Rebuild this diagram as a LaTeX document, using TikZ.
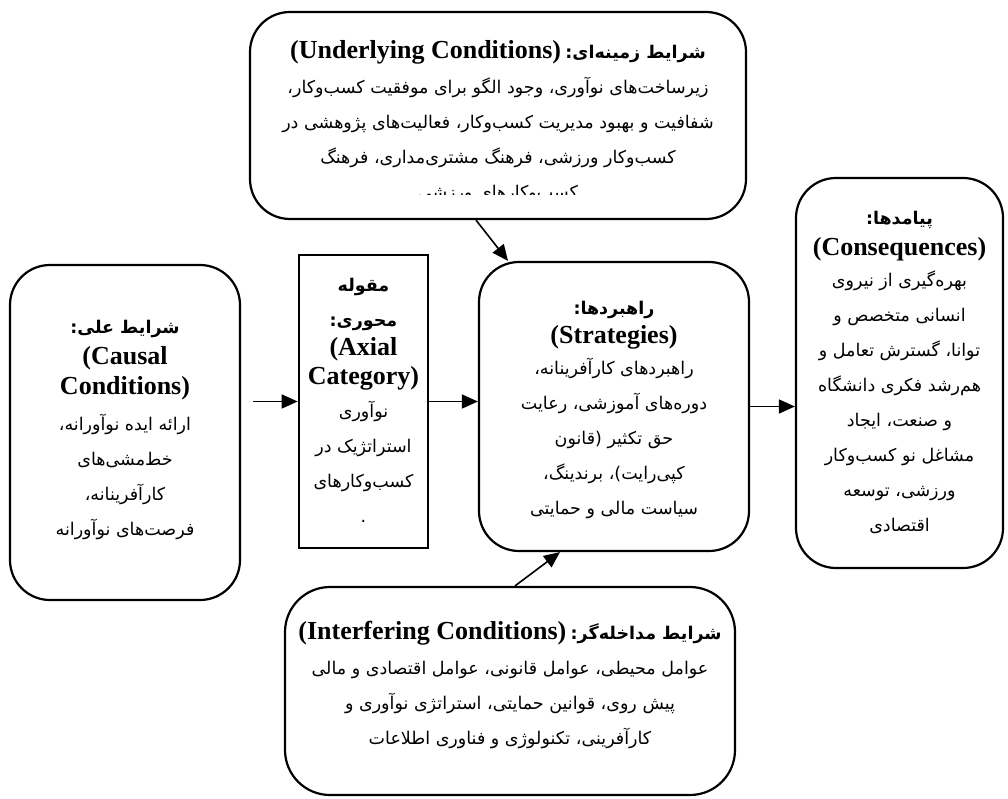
\documentclass[tikz,border=0pt]{standalone}
\usepackage{fontspec}
\setmainfont{Liberation Serif}
\newfontfamily\fa[Script=Arabic]{DejaVu Sans}
\TeXXeTstate=1
\usetikzlibrary{arrows.meta}
\newcommand{\zw}{^^^^200c}
\newcommand{\fl}[1]{{\fa\beginR #1\endR}}
\newcommand{\fh}[1]{{\fa\bfseries\beginR #1\endR}}
\newcommand{\en}[1]{{\fontsize{26}{29}\selectfont\bfseries #1}}
\begin{document}
\begin{tikzpicture}[x=1pt,y=-1pt,
  box/.style={draw, line width=2.2pt, rounded corners=40pt, inner sep=0pt},
  sqbox/.style={draw, line width=2.6pt, inner sep=0pt},
  txt/.style={align=center, font=\fontsize{17.5}{35}\selectfont, inner sep=0pt},
  arr/.style={line width=1.6pt, -{Triangle[length=16pt,width=14pt]}}]
\useasboundingbox (0,0) rectangle (1008,799);

% boxes
\node[box, minimum width=496pt, minimum height=207pt] (top) at (498,115.5) {};
\node[box, minimum width=230pt, minimum height=335pt] (causal) at (125,432.5) {};
\node[sqbox, minimum width=129pt, minimum height=293pt] (axial) at (363.5,401.5) {};
\node[box, minimum width=270pt, minimum height=289pt] (strat) at (614,406.5) {};
\node[box, minimum width=207pt, minimum height=390pt] (cons) at (899.5,373) {};
\node[box, rounded corners=45pt, minimum width=450pt, minimum height=208pt] (inter) at (510,691) {};

% texts
\begin{scope}
\clip (250,12) rectangle (746,195);
\node[txt] (topt) at (498,122) {\en{(Underlying Conditions)} \fh{شرایط زمینه\zw ای:}\\
\fl{زیرساخت\zw های نوآوری، وجود الگو برای موفقیت کسب\zw وکار،}\\
\fl{شفافیت و بهبود مدیریت کسب\zw وکار، فعالیت\zw های پژوهشی در}\\
\fl{کسب\zw وکار ورزشی، فرهنگ مشتری\zw مداری، فرهنگ}\\
\fl{کسب\zw وکارهای ورزشی}};
\end{scope}

\node[txt] (causalt) at (125,430) {\fh{شرایط علی:}\\[-4pt]
\en{(Causal}\\[-5pt]
\en{Conditions)}\\[1pt]
\fl{ارائه ایده نوآورانه،}\\
\fl{خط\zw مشی\zw های}\\
\fl{کارآفرینانه،}\\
\fl{فرصت\zw های نوآورانه}};

\node[txt] (axialt) at (363.5,400) {\fh{مقوله}\\
\fh{محوری:}\\[-6pt]
\en{(Axial}\\[-6pt]
\en{Category)}\\[-2pt]
\fl{نوآوری}\\
\fl{استراتژیک در}\\
\fl{کسب\zw وکارهای}\\
\fl{.}};

\node[txt] (stratt) at (614,410) {\fh{راهبردها:}\\[-6pt]
\en{(Strategies)}\\[-4pt]
\fl{راهبردهای کارآفرینانه،}\\
\fl{دوره\zw های آموزشی، رعایت}\\
\fl{حق تکثیر (قانون}\\
\fl{کپی\zw رایت)، برندینگ،}\\
\fl{سیاست مالی و حمایتی}};

\node[txt] (const) at (899.5,372) {\fh{پیامدها:}\\[-4pt]
\en{(Consequences)}\\[-4pt]
\fl{بهره\zw گیری از نیروی}\\
\fl{انسانی متخصص و}\\
\fl{توانا، گسترش تعامل و}\\
\fl{هم\zw رشد فکری دانشگاه}\\
\fl{و صنعت، ایجاد}\\
\fl{مشاغل نو کسب\zw وکار}\\
\fl{ورزشی، توسعه}\\
\fl{اقتصادی}};

\node[txt] (intert) at (510,685) {\en{(Interfering Conditions)} \fh{شرایط مداخله\zw گر:}\\
\fl{عوامل محیطی، عوامل قانونی، عوامل اقتصادی و مالی}\\
\fl{پیش روی، قوانین حمایتی، استراتژی نوآوری و}\\
\fl{کارآفرینی، تکنولوژی و فناوری اطلاعات}};

% connectors
\draw[arr] ([xshift=12pt]causal.east |- axial.west) -- (axial.west);
\draw[arr] (axial.east) -- (axial.east -| strat.west);
\draw[arr] (strat.east) -- (strat.east -| cons.west);
\draw[arr] ([xshift=-22pt]top.south) -- ([xshift=-106pt]strat.north);
\draw[arr] ([xshift=5pt]inter.north) -- ([xshift=-54pt]strat.south);
\end{tikzpicture}
\end{document}
